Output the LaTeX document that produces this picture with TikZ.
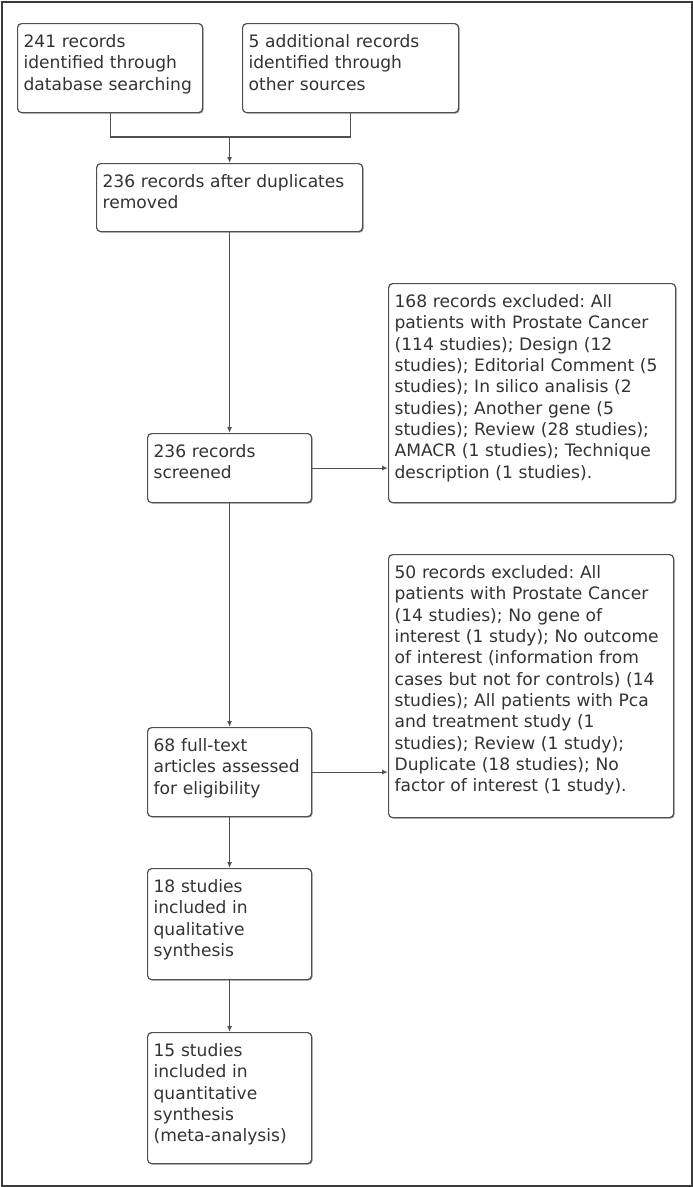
\documentclass[tikz,border=0pt]{standalone}
\usepackage{fontspec}
\setmainfont{DejaVu Sans}
\usetikzlibrary{arrows.meta,shadows}
\definecolor{linegray}{HTML}{505050}
\definecolor{textgray}{HTML}{333333}
\definecolor{framegray}{HTML}{3A3A3A}
\frenchspacing

\begin{document}
\begin{tikzpicture}[x=1pt,y=-1pt,
		flowbox/.style={draw=linegray, line width=1.2pt, rounded corners=4pt, fill=white,
			anchor=north west, align=left, inner xsep=6pt, inner ysep=11pt,
			text height=13pt, text=textgray, font=\fontsize{17.1}{21.3}\selectfont,
			drop shadow={shadow xshift=1pt, shadow yshift=-1pt, fill=linegray, opacity=0.6}},
		flowline/.style={draw=linegray, line width=1.2pt},
		flowarrow/.style={flowline, -{Latex[length=6pt,width=5pt]}}]
			\useasboundingbox (0,0) rectangle (693,1187);
			\draw[draw=framegray, line width=2pt] (1.5,1.5) rectangle (691.5,1185.5);

			\node[flowbox, text width=173pt, text depth=54pt] (dbsearch) at (17,23) {241 records\\identified through\\database searching};
			\node[flowbox, text width=204pt, text depth=54pt] (othersrc) at (242,23) {5 additional records\\identified through\\other sources};
			\node[flowbox, text width=254pt, text depth=33pt] (dedup) at (96,163) {236 records after duplicates\\removed};
			\node[flowbox, text width=152pt, text depth=34pt] (screened) at (147,433) {236 records\\screened};
			\node[flowbox, text width=275pt, text depth=184pt] (excl1) at (388,283) {168 records excluded: All\\patients with Prostate Cancer\\(114 studies); Design (12\\studies); Editorial Comment (5\\studies); In silico analisis (2\\studies); Another gene (5\\studies); Review (28 studies);\\AMACR (1 studies); Technique\\description (1 studies).};
			\node[flowbox, text width=152pt, text depth=54pt] (fulltext) at (147,727) {68 full-text\\articles assessed\\for eligibility};
			\node[flowbox, text width=273pt, text depth=228pt] (excl2) at (388,554) {50 records excluded: All\\patients with Prostate Cancer\\(14 studies); No gene of\\interest (1 study); No outcome\\of interest (information from\\cases but not for controls) (14\\studies); All patients with Pca\\and treatment study (1\\studies); Review (1 study);\\Duplicate (18 studies); No\\factor of interest (1 study).};
			\node[flowbox, text width=152pt, text depth=76pt] (quali) at (147,868) {18 studies\\included in\\qualitative\\synthesis};
			\node[flowbox, text width=152pt, text depth=96pt] (quanti) at (147,1032) {15 studies\\included in\\quantitative\\synthesis\\(meta-analysis)};

			\coordinate (merge) at (dedup.north |- 0,137);
			\draw[flowline] (dbsearch.south) |- (merge) -| (othersrc.south);
			\draw[flowarrow] (merge) -- (dedup.north);
			\draw[flowarrow] (dedup.south) -- (screened.north);
			\draw[flowarrow] (screened.east) -- (screened.east -| excl1.west);
			\draw[flowarrow] (screened.south) -- (fulltext.north);
			\draw[flowarrow] (fulltext.east) -- (fulltext.east -| excl2.west);
			\draw[flowarrow] (fulltext.south) -- (quali.north);
			\draw[flowarrow] (quali.south) -- (quanti.north);
\end{tikzpicture}
\end{document}
